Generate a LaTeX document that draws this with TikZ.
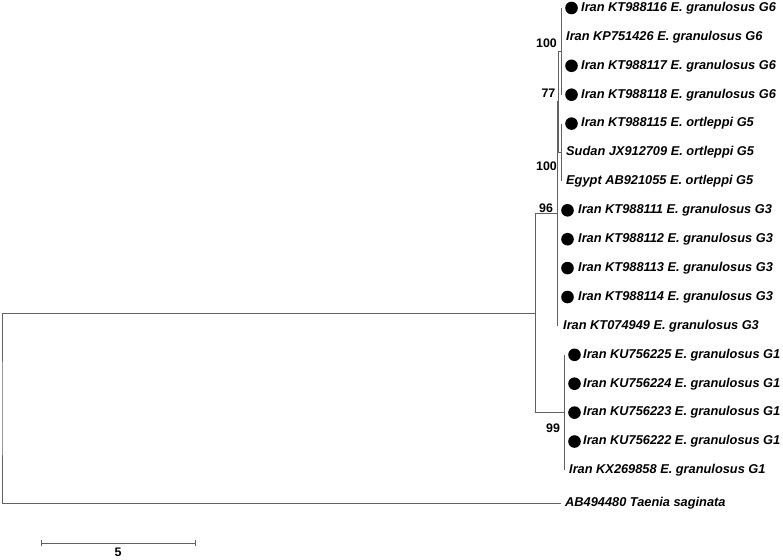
\documentclass[tikz,border=0pt]{standalone}
\usepackage{fontspec}
\setmainfont{Liberation Sans}
\usetikzlibrary{calc}
\begin{document}
\begin{tikzpicture}[x=1pt,y=-1pt,
  edge/.style={draw=black!62,line width=0.9pt},
  lab/.style={anchor=west,inner sep=0pt,font=\fontsize{12.8}{14}\selectfont\bfseries\itshape},
  boot/.style={inner sep=0pt,font=\fontsize{12.4}{14}\selectfont\bfseries},
  dot/.style={circle,fill=black,minimum size=12.6pt,inner sep=0pt}]
\useasboundingbox (0,0) rectangle (783,559);
% tips
\coordinate (t1) at (561,8);
\coordinate (t2) at (561,36.9);
\coordinate (t3) at (561,65.8);
\coordinate (t4) at (561,94.7);
\coordinate (t5) at (561,123.6);
\coordinate (t6) at (561,152.5);
\coordinate (t7) at (561,181.4);
\coordinate (t8) at (557,210.3);
\coordinate (t9) at (557,239.2);
\coordinate (t10) at (557,268.1);
\coordinate (t11) at (557,297);
\coordinate (t12) at (557,325.9);
\coordinate (t13) at (564,354.8);
\coordinate (t14) at (564,383.7);
\coordinate (t15) at (564,412.6);
\coordinate (t16) at (564,441.5);
\coordinate (t17) at (564,470.4);
\coordinate (t18) at (561,503);
% internal nodes
\coordinate (nG6) at (561,51.4);
\coordinate (nG5) at (561,152.5);
\coordinate (n77) at (558.5,101.9);
\coordinate (n96) at (557,213.9);
\coordinate (nG1) at (564,412.6);
\coordinate (nA) at (535,313.2);
\coordinate (root) at (2,408);
% branches
\draw[edge] (t1) -- (t4);
\draw[edge] (t5) -- (t7);
\draw[edge] (t13) -- (t17);
\draw[edge] (nG6) -| (n77) |- (nG5);
\draw[edge] (n77) -| (n96) |- (t12);
\draw[edge] (n96) -| (nA) |- (nG1);
\draw[edge] (nA) -| (root) |- (t18);
% bullets
\foreach \i in {1,3,4,5,8,9,10,11,13,14,15,16}{
  \node[dot] (d\i) at ($(t\i)+(10.5,0)$) {};
}
% leaf labels
\node[lab] (L1) at ($(t1)+(20,0)$) {Iran KT988116 E. granulosus G6};
\node[lab] (L2) at ($(t2)+(5,0)$) {Iran KP751426 E. granulosus G6};
\node[lab] (L3) at ($(t3)+(20,0)$) {Iran KT988117 E. granulosus G6};
\node[lab] (L4) at ($(t4)+(20,0)$) {Iran KT988118 E. granulosus G6};
\node[lab] (L5) at ($(t5)+(20,0)$) {Iran KT988115 E. ortleppi G5};
\node[lab] (L6) at ($(t6)+(5,0)$) {Sudan JX912709 E. ortleppi G5};
\node[lab] (L7) at ($(t7)+(5,0)$) {Egypt AB921055 E. ortleppi G5};
\node[lab] (L8) at ($(t8)+(21,0)$) {Iran KT988111 E. granulosus G3};
\node[lab] (L9) at ($(t9)+(21,0)$) {Iran KT988112 E. granulosus G3};
\node[lab] (L10) at ($(t10)+(21,0)$) {Iran KT988113 E. granulosus G3};
\node[lab] (L11) at ($(t11)+(21,0)$) {Iran KT988114 E. granulosus G3};
\node[lab] (L12) at ($(t12)+(6,0)$) {Iran KT074949 E. granulosus G3};
\node[lab] (L13) at ($(t13)+(19,0)$) {Iran KU756225 E. granulosus G1};
\node[lab] (L14) at ($(t14)+(19,0)$) {Iran KU756224 E. granulosus G1};
\node[lab] (L15) at ($(t15)+(19,0)$) {Iran KU756223 E. granulosus G1};
\node[lab] (L16) at ($(t16)+(19,0)$) {Iran KU756222 E. granulosus G1};
\node[lab] (L17) at ($(t17)+(5,0)$) {Iran KX269858 E. granulosus G1};
\node[lab] (L18) at ($(t18)+(4,0)$) {AB494480 Taenia saginata};
% bootstrap values
\node[boot,anchor=east] (b1) at (557,43) {100};
\node[boot,anchor=east] (b2) at (555.5,93) {77};
\node[boot,anchor=east] (b3) at (557,166) {100};
\node[boot] (b4) at (546,208) {96};
\node[boot] (b5) at (553,428) {99};
% scale bar
\coordinate (s1) at (41,543);
\coordinate (s2) at (195,543);
\draw[edge] (s1) -- (s2);
\draw[edge] ($(s1)+(0,-3)$) -- ($(s1)+(0,3)$);
\draw[edge] ($(s2)+(0,-3)$) -- ($(s2)+(0,3)$);
\node[boot] (sl) at (118,552.5) {5};
\end{tikzpicture}
\end{document}
